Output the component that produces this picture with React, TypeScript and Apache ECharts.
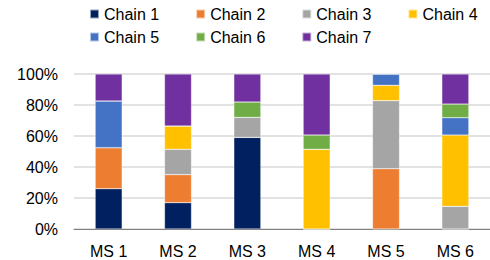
import React, { useEffect, useRef } from "react";
import * as echarts from "echarts";

const categories = ["MS 1", "MS 2", "MS 3", "MS 4", "MS 5", "MS 6"];
const seriesNames = ["Chain 1", "Chain 2", "Chain 3", "Chain 4", "Chain 5", "Chain 6", "Chain 7"];
const chain1 = [26.0, 17.0, 59.1, 0, 0, 0];
const chain2 = [26.5, 18.1, 0, 0, 38.9, 0];
const chain3 = [0, 16.3, 12.9, 0, 43.9, 14.6];
const chain4 = [0, 15.1, 0, 51.4, 9.9, 46.0];
const chain5 = [30.1, 0, 0, 0, 7.3, 11.2];
const chain6 = [0, 0, 9.9, 9.2, 0, 8.8];
const chain7 = [17.4, 33.5, 18.1, 39.4, 0, 19.4];
const yTicks = [0, 20, 40, 60, 80, 100];
const colors = ["#002060", "#ED7D31", "#A5A5A5", "#FFC000", "#4472C4", "#70AD47", "#7030A0"];

const allData = [chain1, chain2, chain3, chain4, chain5, chain6, chain7];

export default function App() {
  const ref = useRef<HTMLDivElement>(null);
  useEffect(() => {
    if (!ref.current) return;
    const chart = echarts.init(ref.current, null, { renderer: "svg" });
    const font = "Liberation Sans, Arial, sans-serif";
    const legendCommon = {
      left: 89,
      padding: 0,
      orient: "horizontal",
      itemWidth: 9,
      itemHeight: 9,
      itemGap: 36,
      icon: "rect",
      textStyle: { fontFamily: font, fontSize: 16, color: "#000" },
    };
    chart.setOption({
      animation: false,
      color: colors,
      legend: [
        { ...legendCommon, top: 6, data: seriesNames.slice(0, 4) },
        { ...legendCommon, top: 29, data: seriesNames.slice(4) },
      ],
      grid: { left: 74, right: 0, top: 74, bottom: 31, containLabel: false },
      xAxis: {
        type: "category",
        data: categories,
        axisTick: { show: false },
        axisLine: { lineStyle: { color: "#7f7f7f", width: 1 } },
        axisLabel: { margin: 14, fontFamily: font, fontSize: 16, color: "#000" },
      },
      yAxis: {
        type: "value",
        min: yTicks[0],
        max: yTicks[yTicks.length - 1],
        interval: 20,
        axisLine: { show: false },
        axisTick: { show: false },
        splitLine: { lineStyle: { color: "#d9d9d9", width: 1.5 } },
        axisLabel: {
          margin: 16,
          formatter: "{value}%",
          fontFamily: font,
          fontSize: 16,
          color: "#000",
        },
      },
      series: seriesNames.map((name, i) => ({
        name,
        type: "bar",
        stack: "total",
        barWidth: 27,
        data: allData[i],
        itemStyle: { borderColor: "rgba(255,255,255,0.6)", borderWidth: 0.5 },
      })),
    });
    return () => chart.dispose();
  }, []);
  return (
    <div
      ref={ref}
      style={{ position: "fixed", left: 0, top: 0, width: 490, height: 260, background: "#fff" }}
    />
  );
}
